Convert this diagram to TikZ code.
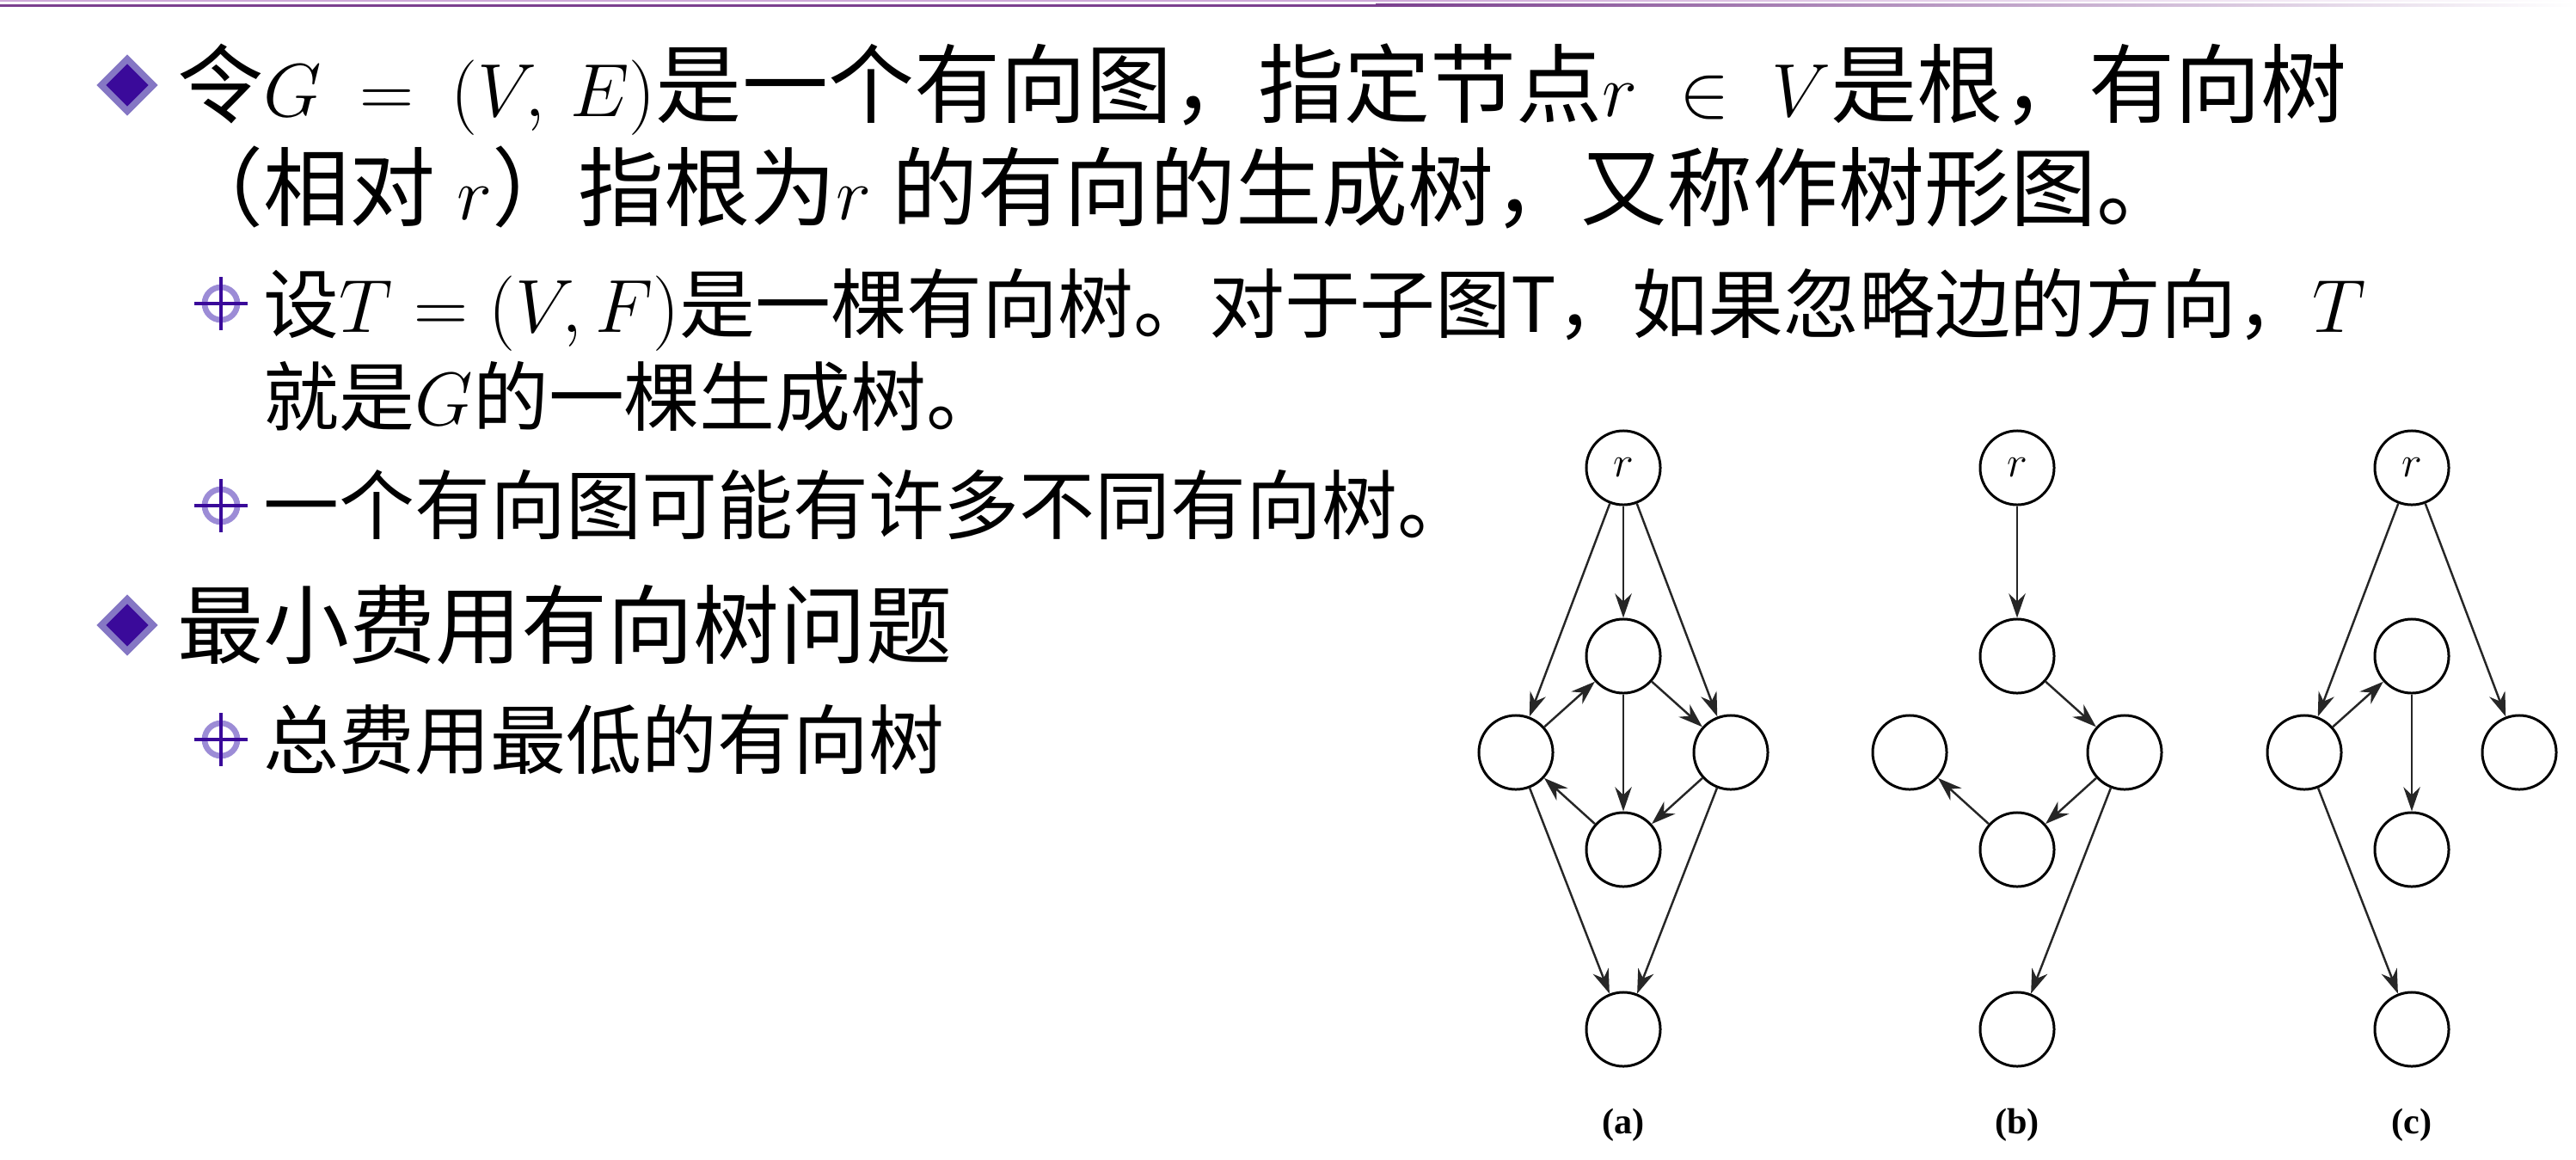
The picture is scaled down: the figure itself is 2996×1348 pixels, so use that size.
\documentclass[tikz,border=0pt]{standalone}
\usepackage{fontspec}
\newfontfamily\cjk{Noto Sans CJK SC}
\newfontfamily\capfont{Liberation Serif}
\usetikzlibrary{shapes.geometric,arrows.meta}

\definecolor{slidepurple}{HTML}{7B3F8E}
\definecolor{slidelilac}{HTML}{CFA9D8}
\definecolor{bulletdark}{HTML}{3A0A9A}
\definecolor{bulletlight}{HTML}{8577C4}
\definecolor{ringlight}{HTML}{9C8CD6}
\definecolor{edgegray}{HTML}{262626}

\tikzset{
  lvlone/.style={anchor=base west, inner sep=0pt, font=\cjk\fontsize{28.45pt}{34pt}\selectfont},
  lvltwo/.style={anchor=base west, inner sep=0pt, font=\cjk\fontsize{25pt}{30pt}\selectfont},
  diamondouter/.style={diamond, aspect=1, inner sep=0pt, minimum size=0.72cm, fill=bulletlight},
  diamondinner/.style={diamond, aspect=1, inner sep=0pt, minimum size=0.50cm, fill=bulletdark},
  subring/.style={circle, inner sep=0pt, minimum size=0.38cm, draw=ringlight, line width=1.9pt},
  subcross/.style={draw=bulletdark, line width=1.4pt},
  vertex/.style={circle, draw, line width=0.85pt, minimum size=0.86cm, inner sep=0pt,
    font=\fontsize{15pt}{17pt}\selectfont},
  edge/.style={-{Stealth[length=8pt,width=5.5pt]}, line width=0.7pt, draw=edgegray},
  caption/.style={font=\capfont\bfseries\fontsize{12pt}{14pt}\selectfont}
}

\begin{document}
\begin{tikzpicture}[x=0.01cm, y=-0.01cm]
   \useasboundingbox (0,0) rectangle (2996,1348);

   % header rules
   \fill[slidelilac] (0,0) rectangle (1600,1.5);
   \shade[left color=slidelilac, right color=white] (1600,0) rectangle (2996,1.5);
   \fill[slidepurple] (0,4.5) rectangle (1600,7.5);
   \shade[left color=slidepurple, right color=white] (1600,4.5) rectangle (2996,7.5);

   % bullets
   \foreach \y/\n in {99/d1,727/d2} {
     \node[diamondouter] (\n) at (148,\y) {};
     \node[diamondinner] at (\n) {};
   }
   \foreach \y/\n in {353/s1,588/s2,860/s3} {
     \node[subring] (\n) at (257,\y) {};
     \draw[subcross] (\n) ++(-31,0) -- ++(62,0);
     \draw[subcross] (\n) ++(0,-31) -- ++(0,62);
   }

   % text
   \node[lvlone] (t1) at (206,135) {令$G\:=\:(V,\,E)$是一个有向图，指定节点$r\;\in\;V$是根，有向树};
   \node[lvlone] (t2) at (206,255) {（相对$\;r$）指根为$r\;$的有向的生成树，又称作树形图。};
   \node[lvltwo] (t3) at (306,386) {设$T=(V,F)$是一棵有向树。对于子图T，如果忽略边的方向，$T$};
   \node[lvltwo] (t4) at (306,494) {就是$G$的一棵生成树。};
   \node[lvltwo] (t5) at (306,620) {一个有向图可能有许多不同有向树。};
   \node[lvlone] (t6) at (206,764) {最小费用有向树问题};
   \node[lvltwo] (t7) at (306,893) {总费用最低的有向树};

   % the three graphs
   \foreach \t/\x in {a/1888,b/2346,c/2805} {
     \node[vertex] (\t r) at (\x,544) {$r$};
     \node[vertex] (\t m) at (\x,763) {};
     \node[vertex] (\t l) at (\x-125,875) {};
     \node[vertex] (\t e) at (\x+125,875) {};
     \node[vertex] (\t s) at (\x,988) {};
     \node[vertex] (\t b) at (\x,1197) {};
     \node[caption] (\t cap) at (\x,1308) {(\t)};
   }

   % (a)
   \draw[edge] (ar) -- (am);
   \draw[edge] (ar) -- (al);
   \draw[edge] (ar) -- (ae);
   \draw[edge] (al) -- (am);
   \draw[edge] (am) -- (ae);
   \draw[edge] (am) -- (as);
   \draw[edge] (as) -- (al);
   \draw[edge] (ae) -- (as);
   \draw[edge] (al) -- (ab);
   \draw[edge] (ae) -- (ab);

   % (b)
   \draw[edge] (br) -- (bm);
   \draw[edge] (bm) -- (be);
   \draw[edge] (be) -- (bs);
   \draw[edge] (bs) -- (bl);
   \draw[edge] (be) -- (bb);

   % (c)
   \draw[edge] (cr) -- (cl);
   \draw[edge] (cr) -- (ce);
   \draw[edge] (cl) -- (cm);
   \draw[edge] (cm) -- (cs);
   \draw[edge] (cl) -- (cb);

\end{tikzpicture}
\end{document}
